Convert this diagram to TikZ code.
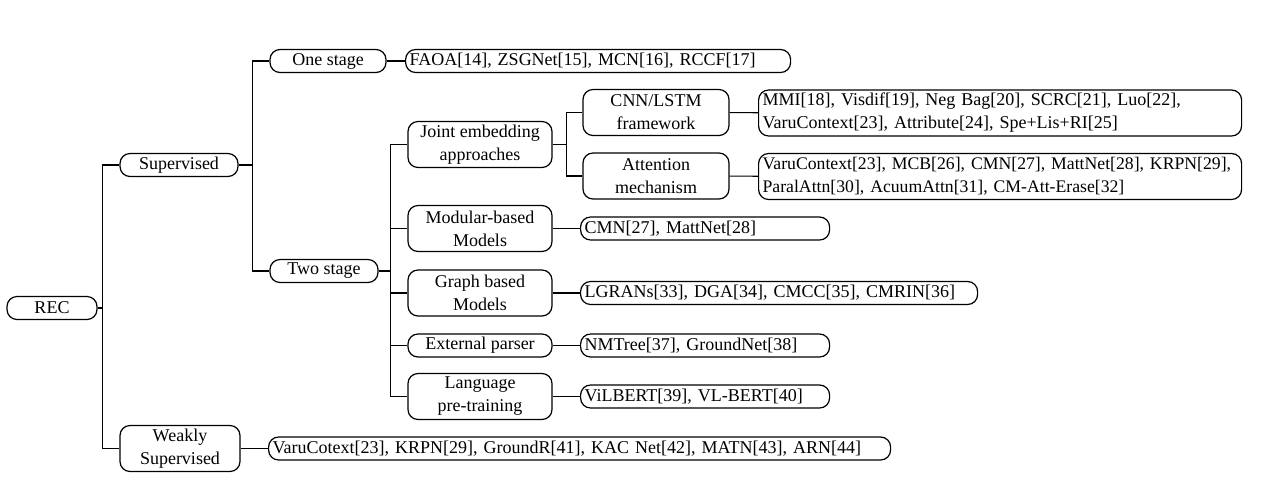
\documentclass[tikz,border=0pt]{standalone}
\usepackage{fontspec}
\setmainfont{Liberation Serif}
\usetikzlibrary{calc}
\begin{document}
\begin{tikzpicture}[x=0.5pt,y=-0.5pt,
  every node/.style={font=\fontsize{9}{11.5}\selectfont},
  cat/.style={draw,rounded corners=5pt,line width=0.6pt,align=center,inner sep=0pt,
    minimum height=11.5pt},
  leaf/.style={draw,rounded corners=5pt,line width=0.6pt,align=left,inner ysep=0pt,
    inner xsep=2pt,minimum height=11.5pt,anchor=west},
  link/.style={line width=0.6pt}]
\useasboundingbox (0,0) rectangle (1266,500);

% root and first level
\node[cat,minimum width=45pt] (rec) at (52,308) {REC};
\node[cat,minimum width=59pt] (sup) at (179,165) {Supervised};
\node[cat,minimum width=60pt,minimum height=23pt] (weak) at (180,448.5) {Weakly\\Supervised};

% supervised branches
\node[cat,minimum width=58pt] (one) at (328,61) {One stage};
\node[cat,minimum width=54pt] (two) at (324,271) {Two stage};

% two-stage categories
\node[cat,minimum width=72pt,minimum height=23pt] (joint) at (480,144.5) {Joint embedding\\approaches};
\node[cat,minimum width=73pt,minimum height=23pt] (cnn) at (656,112.5) {CNN/LSTM\\framework};
\node[cat,minimum width=73pt,minimum height=23pt] (att) at (656,176) {Attention\\mechanism};
\node[cat,minimum width=72pt,minimum height=23pt] (mod) at (480,228.5) {Modular-based\\Models};
\node[cat,minimum width=72pt,minimum height=23pt] (graph) at (480,293) {Graph based\\Models};
\node[cat,minimum width=72pt] (ext) at (480,345.5) {External parser};
\node[cat,minimum width=72pt,minimum height=23pt] (lang) at (480,396.5) {Language\\pre-training};

% method lists (lines are set unbroken)
\node[leaf,text width=188.5pt] (l1) at (405,61) {\mbox{FAOA[14], ZSGNet[15], MCN[16], RCCF[17]}};
\node[leaf,text width=237.5pt,minimum height=23pt] (l2) at (758,113) {\mbox{MMI[18], Visdif[19], Neg Bag[20], SCRC[21], Luo[22],}\\\mbox{VaruContext[23], Attribute[24], Spe+Lis+RI[25]}};
\node[leaf,text width=237.5pt,minimum height=23pt,font=\fontsize{8.85}{11.5}\selectfont] (l3) at (758,176.5) {\mbox{VaruContext[23], MCB[26], CMN[27], MattNet[28], KRPN[29],}\\\mbox{ParalAttn[30], AcuumAttn[31], CM-Att-Erase[32]}};
\node[leaf,text width=120.5pt] (l4) at (580,228.5) {\mbox{CMN[27], MattNet[28]}};
\node[leaf,text width=194.5pt] (l5) at (580,293) {\mbox{LGRANs[33], DGA[34], CMCC[35], CMRIN[36]}};
\node[leaf,text width=120.5pt] (l6) at (580,345.5) {\mbox{NMTree[37], GroundNet[38]}};
\node[leaf,text width=120.5pt] (l7) at (580,396.5) {\mbox{ViLBERT[39], VL-BERT[40]}};
\node[leaf,text width=307pt] (l8) at (268,448.5) {\mbox{VaruCotext[23], KRPN[29], GroundR[41], KAC Net[42], MATN[43], ARN[44]}};

% tree connectors
\draw[link] (rec.east) -- ++(5,0) |- (sup.west);
\draw[link] (rec.east) -- ++(5,0) |- (weak.west);
\draw[link] (sup.east) -- ++(14,0) |- (one.west);
\draw[link] (sup.east) -- ++(14,0) |- (two.west);
\foreach \c in {joint,mod,graph,ext,lang}
  \draw[link] (two.east) -- ++(12,0) |- (\c.west);
\draw[link] (joint.east) -- ++(14,0) |- (cnn.west);
\draw[link] (joint.east) -- ++(14,0) |- (att.west);

% category to list
\draw[link] (one) -- (l1);
\draw[link] (cnn) -- (l2);
\draw[link] (att) -- (l3);
\draw[link] (mod) -- (l4);
\draw[link] (graph) -- (l5);
\draw[link] (ext) -- (l6);
\draw[link] (lang) -- (l7);
\draw[link] (weak) -- (l8);
\end{tikzpicture}
\end{document}
